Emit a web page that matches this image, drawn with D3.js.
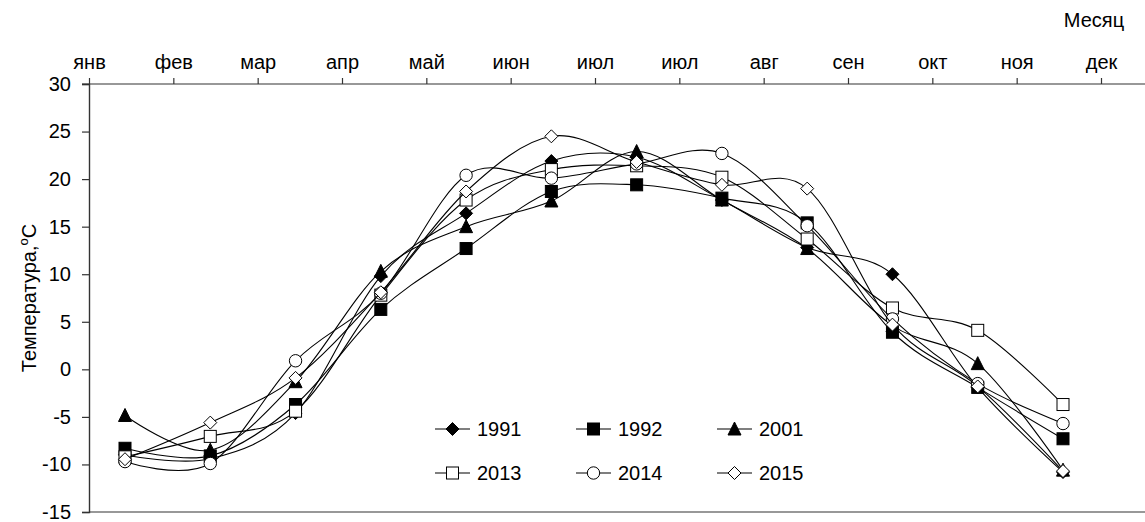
<!DOCTYPE html>
<html>
<head>
<meta charset="utf-8">
<script src="https://cdn.jsdelivr.net/npm/d3@7"></script>
<style>
  html, body { margin: 0; padding: 0; background: #fff; }
  svg { display: block; font-family: "Liberation Sans", Arial, sans-serif; }
</style>
</head>
<body>
<svg id="chart" width="1145" height="522"></svg>
<script>
// Monthly mean air temperature, by year
const months = ["1", "2", "3", "4", "5", "6", "7", "8", "9", "10", "11", "12"];
const monthLabels = ["янв", "фев", "мар", "апр", "май", "июн", "июл", "июл", "авг", "сен", "окт", "ноя", "дек"];
const yTicks = [-15, -10, -5, 0, 5, 10, 15, 20, 25, 30];

const years = ["1991", "1992", "2001", "2013", "2014", "2015"];
const t1991 = [-9.0, -9.4, -4.6, 9.8, 16.4, 21.9, 22.3, 17.8, 12.8, 10.0, -1.9, -10.8];
const t1992 = [-8.3, -9.1, -3.7, 6.3, 12.7, 18.7, 19.4, 18.0, 15.4, 3.9, -1.9, -7.3];
const t2001 = [-4.85, -8.5, -1.3, 10.3, 15.0, 17.7, 22.9, 17.8, 12.7, 4.6, 0.6, -10.6];
const t2013 = [-9.2, -7.05, -4.4, 7.8, 17.8, 21.0, 21.4, 20.2, 13.7, 6.45, 4.1, -3.7];
const t2014 = [-9.7, -9.9, 0.9, 8.0, 20.4, 20.1, 21.6, 22.7, 15.1, 5.3, -1.5, -5.7];
const t2015 = [-9.45, -5.6, -0.9, 8.1, 18.7, 24.5, 21.8, 19.4, 19.0, 4.7, -1.8, -10.7];
const markerKinds = ["diamondFilled", "squareFilled", "triangleFilled", "squareOpen", "circleOpen", "diamondOpen"];

const seriesValues = [t1991, t1992, t2001, t2013, t2014, t2015];

const svg = d3.select("#chart");
const FONT = 20;

const plot = { left: 89, right: 1145, top: 84, bottom: 512 };

const x = d3.scalePoint().domain(months).range([125, 1063]);
const xTop = d3.scalePoint().domain(d3.range(monthLabels.length)).range([plot.left, 1101]);
const y = d3.scaleLinear().domain([-15, 30]).range([plot.bottom, plot.top]);

const AXIS = "#333";

// bottom frame line
svg.append("line")
  .attr("x1", plot.left).attr("x2", plot.right)
  .attr("y1", y(-15)).attr("y2", y(-15))
  .attr("stroke", AXIS).attr("stroke-width", 1.2);

// y axis
const yAxis = svg.append("g").attr("transform", `translate(${plot.left},0)`)
  .call(d3.axisLeft(y).tickValues(yTicks).tickSize(7).tickPadding(11).tickFormat(d3.format("d")));
yAxis.select(".domain").attr("stroke", AXIS).attr("stroke-width", 1.4);
yAxis.selectAll(".tick line").attr("stroke", AXIS).attr("stroke-width", 1.2);
yAxis.selectAll("text").attr("font-size", FONT).attr("fill", "#000")
  .attr("font-family", "Liberation Sans, Arial, sans-serif")
  .text(d => d < 0 ? "-" + Math.abs(d) : d);

// month axis along the top
const xAxis = svg.append("g").attr("transform", `translate(0,${y(30)})`)
  .call(d3.axisTop(xTop).tickSize(6).tickPadding(9).tickFormat(i => monthLabels[i]));
xAxis.select(".domain").remove();
xAxis.append("line").attr("x1", plot.left - 7).attr("x2", plot.right)
  .attr("stroke", AXIS).attr("stroke-width", 1.2);
xAxis.selectAll(".tick line").attr("stroke", AXIS).attr("stroke-width", 1.2);
xAxis.selectAll("text").attr("font-size", FONT).attr("fill", "#000")
  .attr("font-family", "Liberation Sans, Arial, sans-serif");

svg.append("text").attr("x", 1094).attr("y", 27).attr("text-anchor", "middle")
  .attr("font-size", FONT).text("Месяц");

// y axis title
const yTitle = svg.append("text")
  .attr("transform", `translate(36,${(plot.top + plot.bottom) / 2}) rotate(-90)`)
  .attr("text-anchor", "middle").attr("font-size", FONT);
yTitle.append("tspan").text("Температура,");
yTitle.append("tspan").attr("font-size", 13).attr("dy", -8).text("o");
yTitle.append("tspan").attr("dy", 8).text("С");

// marker shapes
function drawMarker(g, kind, cx, cy) {
  const filled = kind.endsWith("Filled");
  const fill = filled ? "#000" : "#fff";
  let el;
  if (kind.startsWith("diamond")) {
    const r = 6.5;
    el = g.append("path").attr("d", `M${cx},${cy - r}L${cx + r},${cy}L${cx},${cy + r}L${cx - r},${cy}Z`);
  } else if (kind.startsWith("square")) {
    const h = 6;
    el = g.append("rect").attr("x", cx - h).attr("y", cy - h).attr("width", 2 * h).attr("height", 2 * h);
  } else if (kind.startsWith("triangle")) {
    el = g.append("path").attr("d", `M${cx},${cy - 7}L${cx + 6.5},${cy + 6}L${cx - 6.5},${cy + 6}Z`);
  } else {
    el = g.append("circle").attr("cx", cx).attr("cy", cy).attr("r", 6.2);
  }
  el.attr("fill", fill).attr("stroke", "#000").attr("stroke-width", 1);
}

const line = d3.line()
  .x((d, i) => x(months[i]))
  .y(d => y(d))
  .curve(d3.curveCardinal.tension(0));

const series = svg.append("g");
seriesValues.forEach((vals, k) => {
  const g = series.append("g");
  g.append("path").attr("d", line(vals)).attr("fill", "none")
    .attr("stroke", "#000").attr("stroke-width", 1.1);
  vals.forEach((v, i) => drawMarker(g, markerKinds[k], x(months[i]), y(v)));
});

// legend: two rows of three
const legend = svg.append("g");
const legendCols = [435, 576, 717];
const legendRows = [429, 473];
years.forEach((yr, k) => {
  const lx = legendCols[k % 3], ly = legendRows[Math.floor(k / 3)];
  const g = legend.append("g");
  g.append("line").attr("x1", lx).attr("x2", lx + 35).attr("y1", ly).attr("y2", ly)
    .attr("stroke", "#000").attr("stroke-width", 1.1);
  drawMarker(g, markerKinds[k], lx + 17.5, ly);
  g.append("text").attr("x", lx + 42).attr("y", ly + 7).attr("font-size", FONT).text(yr);
});
</script>
</body>
</html>
